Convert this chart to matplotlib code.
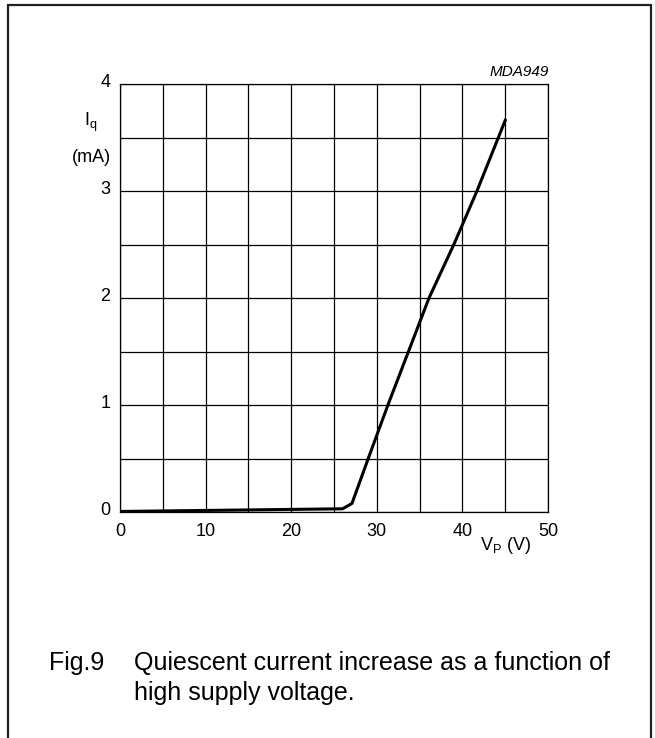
import matplotlib
matplotlib.use("Agg")
from matplotlib import pyplot as plt
from matplotlib.patches import Rectangle
import numpy as np

plt.rcParams['font.family'] = ['Liberation Sans', 'DejaVu Sans']

# supply voltage (V) and quiescent current (mA)
vp = [0, 26.0, 27.1, 29.0, 31.3, 36.1, 39.0, 41.7, 45.0]
iq = [0.005, 0.03, 0.08, 0.5, 1.0, 2.0, 2.5, 3.0, 3.66]

x_ticks = [0, 10, 20, 30, 40, 50]
y_ticks = [0, 1, 2, 3, 4]

W, H = 655, 738
fig = plt.figure(figsize=(W / 100, H / 100), dpi=100)

# outer frame
fig.patches.append(Rectangle((8 / W, -0.05), (651 - 8) / W, 1.05 - 5 / H,
                             transform=fig.transFigure, fill=False,
                             edgecolor='#222222', linewidth=1.6))

ax = fig.add_axes([120 / W, 226 / H, 428 / W, 428 / H])
ax.set_xlim(0, 50)
ax.set_ylim(0, 4)
ax.set_xticks(np.arange(0, 50.1, 5))
ax.set_yticks(np.arange(0, 4.01, 0.5))
ax.grid(True, color='black', linewidth=0.9)
for s in ax.spines.values():
    s.set_linewidth(0.9)
ax.tick_params(length=0, labelbottom=False, labelleft=False)

# tick labels as text so only whole values are shown
for v in x_ticks:
    ax.text(v, -0.18, str(v), ha='center', va='center', fontsize=13)
for v in y_ticks:
    ax.text(-1.15, v + 0.015, str(v), ha='right', va='center', fontsize=13)

ax.plot(vp, iq, color='black', linewidth=2.2, solid_joinstyle='round')

fig.text(84 / W, 1 - 122 / H, r'I$_\mathregular{q}$', fontsize=13, ha='left', va='center')
fig.text(91 / W, 1 - 157 / H, '(mA)', fontsize=13, ha='center', va='center')
fig.text(480 / W, 1 - 546 / H, r'V$_\mathregular{P}$ (V)', fontsize=13, ha='left', va='center')
fig.text(549 / W, 1 - 72 / H, 'MDA949', fontsize=11, style='italic', ha='right', va='center')

fig.text(49 / W, 1 - 670 / H, 'Fig.9', fontsize=18, ha='left', va='baseline')
fig.text(134 / W, 1 - 670 / H, 'Quiescent current increase as a function of',
         fontsize=18, ha='left', va='baseline')
fig.text(134 / W, 1 - 700 / H, 'high supply voltage.', fontsize=18, ha='left', va='baseline')

fig.savefig('out.png', dpi=100)
